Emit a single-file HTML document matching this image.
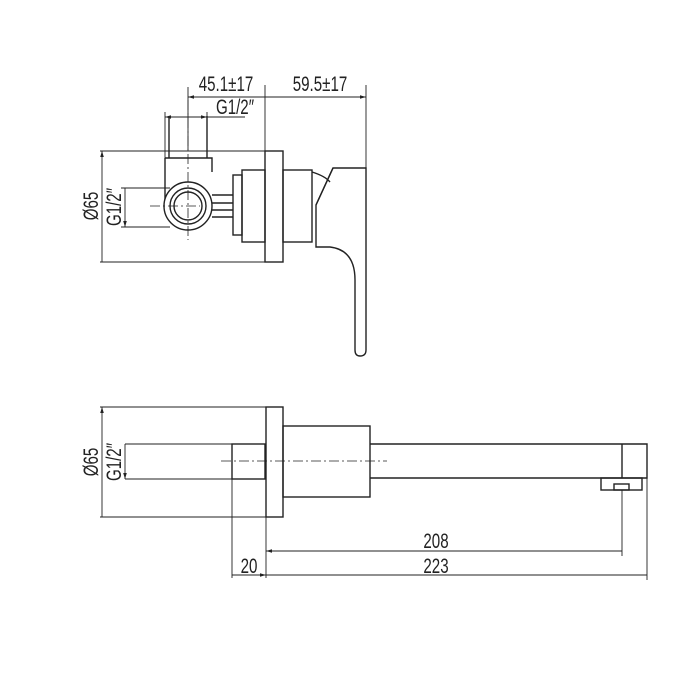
<!DOCTYPE html>
<html><head><style>
html,body{margin:0;padding:0;background:#fff;}
svg{display:block;}
text{font-family:"Liberation Sans",sans-serif;font-size:21px;fill:#222;}
</style></head><body>
<svg width="700" height="700" viewBox="0 0 700 700" xmlns="http://www.w3.org/2000/svg">
<defs>
<marker id="a" viewBox="0 0 10 6" refX="10" refY="3" markerWidth="7" markerHeight="4" orient="auto-start-reverse"><path d="M0,0L10,3L0,6z" fill="#222"/></marker>
</defs>
<g fill="none" stroke="#222" stroke-width="1.4">
<rect x="265" y="151" width="18" height="111"/>
<rect x="283" y="170" width="29" height="72"/>
<rect x="242" y="170" width="23" height="72"/>
<rect x="233" y="175" width="9" height="60"/>
<path d="M169,116V158M207,116V158"/>
<path d="M165,158H212V172M165,158V200"/>
<path d="M212,195H233M212,203H233M212,210H233M212,217H233"/>
<circle cx="188" cy="206" r="24" fill="#fff"/>
<circle cx="188" cy="206" r="18"/>
<circle cx="188" cy="206" r="14"/>
<path d="M312,172Q325,176 330,182"/>
<path d="M333,168H366V350Q366,356 360,356Q355,356 355,350V280Q355,250 330,247H316V205Z"/>
<path d="M316,205L333,168"/>
<path d="M188,100V240M150,206H200" stroke-width="0.8" stroke-dasharray="10,3,2,3"/>
<path d="M188,87V150M265,85V151M366,85V168M100,151H265M100,262H265M121,188H170M121,227H170M165,112V158M207,112V158" stroke-width="0.9"/>
<path d="M188,97H265M265,97H366" marker-start="url(#a)" marker-end="url(#a)" stroke-width="0.9"/>
<path d="M165,117H207" marker-start="url(#a)" marker-end="url(#a)" stroke-width="0.9"/>
<path d="M207,117H245" stroke-width="0.9"/>
<path d="M102,151V262M125,188V227" marker-start="url(#a)" marker-end="url(#a)" stroke-width="0.9"/>

<rect x="266" y="407" width="17" height="110"/>
<rect x="283" y="426" width="87" height="71"/>
<path d="M370,444H647V478H370M622,444V478"/>
<rect x="601" y="478" width="41" height="12"/>
<rect x="614" y="484" width="15" height="6"/>
<rect x="232" y="444" width="33" height="35"/>
<path d="M125,444H232M125,479H232" stroke-width="0.9"/>
<path d="M221,461H387" stroke-width="0.8" stroke-dasharray="10,3,2,3"/>
<path d="M100,407H266M100,517H266M232,479V578M266,517V578M622,490V556M647,478V580" stroke-width="0.9"/>
<path d="M102,407V517M125,444V479" marker-start="url(#a)" marker-end="url(#a)" stroke-width="0.9"/>
<path d="M266,551H622M266,575H647M232,575H266" marker-start="url(#a)" marker-end="url(#a)" stroke-width="0.9"/>
</g>
<g>
<text transform="translate(226,91) scale(0.72,1)" text-anchor="middle">45.1±17</text>
<text transform="translate(320,91) scale(0.72,1)" text-anchor="middle">59.5±17</text>
<text transform="translate(235,114) scale(0.72,1)" text-anchor="middle">G1/2″</text>
<text transform="translate(98,206) rotate(-90) scale(0.72,1)" text-anchor="middle">Ø65</text>
<text transform="translate(121,207) rotate(-90) scale(0.72,1)" text-anchor="middle">G1/2″</text>
<text transform="translate(98,462) rotate(-90) scale(0.72,1)" text-anchor="middle">Ø65</text>
<text transform="translate(121,462) rotate(-90) scale(0.72,1)" text-anchor="middle">G1/2″</text>
<text transform="translate(436,548) scale(0.72,1)" text-anchor="middle">208</text>
<text transform="translate(436,573) scale(0.72,1)" text-anchor="middle">223</text>
<text transform="translate(249,573) scale(0.72,1)" text-anchor="middle">20</text>
</g>
</svg>
</body></html>
